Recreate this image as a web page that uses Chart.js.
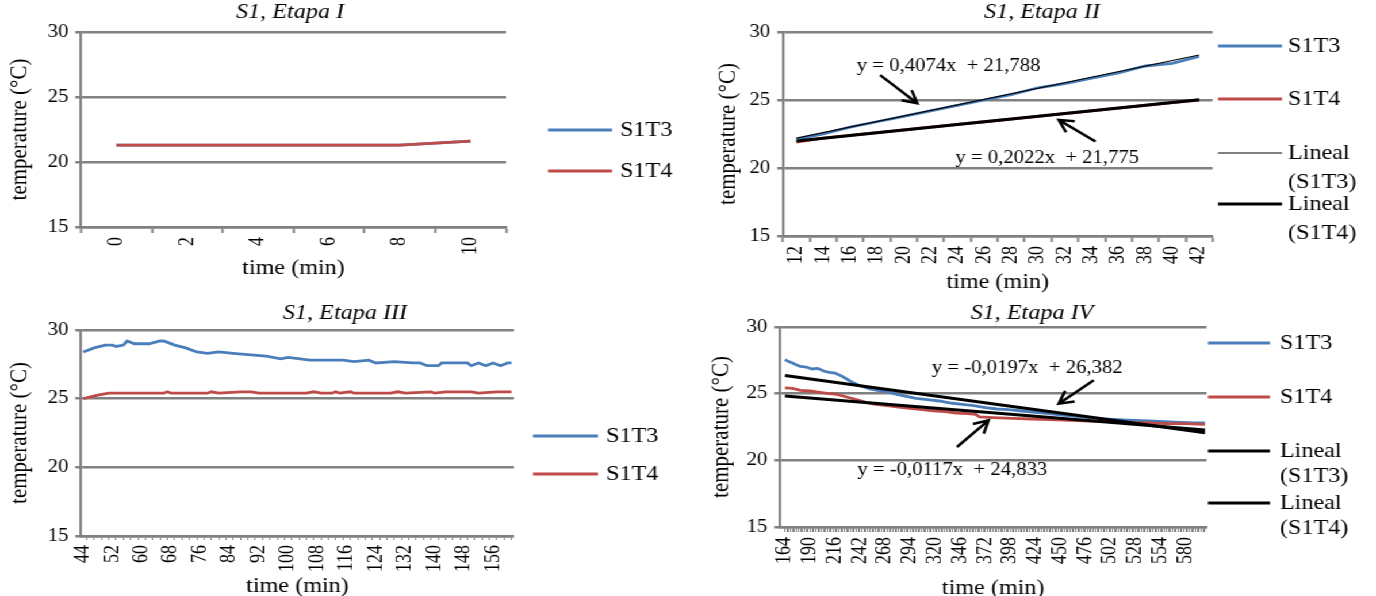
<!DOCTYPE html>
<html>
<head>
<meta charset="utf-8">
<script src="https://cdn.jsdelivr.net/npm/chart.js@4.4.1/dist/chart.umd.min.js"></script>
<style>
  html, body { margin: 0; padding: 0; background: #fff; overflow: hidden; }
  #wrap { position: relative; width: 1197px; height: 596px; transform: scaleX(1.15); transform-origin: 0 0; }
  canvas { position: absolute; }
</style>
</head>
<body>
<div id="wrap">
  <canvas id="c1"></canvas>
  <canvas id="c2"></canvas>
  <canvas id="c3"></canvas>
  <canvas id="c4"></canvas>
</div>
<script>
// ---- data (time in min, temperature in degC) ----

// S1, Etapa I
var times1 = [0, 2, 4, 6, 8, 10];
var s1t3_1 = [21.3, 21.3, 21.3, 21.3, 21.3, 21.6];
var s1t4_1 = [21.3, 21.3, 21.3, 21.3, 21.3, 21.6];
var xLabels1 = [0, 2, 4, 6, 8, 10];

// S1, Etapa II
var times2 = [12, 14, 16, 18, 20, 22, 24, 26, 28, 30, 32, 34, 36, 38, 40, 42];
var s1t3_2 = [22.1, 22.5, 23.0, 23.4, 23.8, 24.2, 24.6, 25.0, 25.4, 25.9, 26.2, 26.6, 27.0, 27.5, 27.7, 28.2];
var s1t4_2 = [21.9, 22.2, 22.4, 22.6, 22.8, 23.0, 23.2, 23.4, 23.6, 23.8, 24.0, 24.2, 24.4, 24.6, 24.8, 25.0];
var xLabels2 = [12, 14, 16, 18, 20, 22, 24, 26, 28, 30, 32, 34, 36, 38, 40, 42];
var trendS1T3_2 = [0.4074, 21.788];
var trendS1T4_2 = [0.2022, 21.775];

// S1, Etapa III
var times3a = [44, 47, 50, 52, 53, 55, 56, 58, 62, 65, 66, 69, 72, 75, 78, 81, 85, 89, 94, 98,
               100, 106, 115, 118, 122, 124, 129, 134, 136, 138, 141, 142, 149, 150, 152, 154, 156, 158, 160, 161];
var s1t3_3 = [28.4, 28.7, 28.9, 28.9, 28.8, 28.9, 29.2, 29.0, 29.0, 29.2, 29.2, 28.9, 28.7, 28.4, 28.3, 28.4, 28.3, 28.2, 28.1, 27.9,
              28.0, 27.8, 27.8, 27.7, 27.8, 27.6, 27.7, 27.6, 27.6, 27.4, 27.4, 27.6, 27.6, 27.4, 27.6, 27.4, 27.6, 27.4, 27.6, 27.6];
var times3b = [44, 48, 51, 66, 67, 68, 78, 79, 81, 87, 90, 92, 105, 107, 109, 112, 113, 114, 117, 118,
               128, 130, 132, 139, 140, 143, 150, 152, 157, 161];
var s1t4_3 = [25.0, 25.25, 25.4, 25.4, 25.5, 25.4, 25.4, 25.5, 25.4, 25.5, 25.5, 25.4, 25.4, 25.5, 25.4, 25.4, 25.5, 25.4, 25.5, 25.4,
              25.4, 25.5, 25.4, 25.5, 25.4, 25.5, 25.5, 25.4, 25.5, 25.5];
var xLabels3 = [44, 52, 60, 68, 76, 84, 92, 100, 108, 116, 124, 132, 140, 148, 156];

// S1, Etapa IV
var times4a = [164, 168, 172, 176, 180, 186, 192, 198, 204, 210, 216, 222, 228, 234, 240, 246, 252, 260, 270, 280,
               290, 300, 312, 324, 336, 348, 360, 372, 384, 396, 410, 424, 438, 452, 466, 480, 494, 510, 526, 542,
               558, 574, 590, 600];
var s1t3_4 = [27.55, 27.4, 27.3, 27.15, 27.05, 27.0, 26.85, 26.9, 26.7, 26.6, 26.55, 26.35, 26.1, 25.85, 25.65, 25.5, 25.35, 25.25, 25.15, 24.95,
              24.8, 24.65, 24.55, 24.45, 24.3, 24.2, 24.1, 23.95, 23.85, 23.8, 23.7, 23.6, 23.5, 23.4, 23.3, 23.2, 23.1, 23.05, 23.0, 22.95,
              22.9, 22.85, 22.8, 22.8];
var times4b = [164, 172, 180, 190, 200, 210, 218, 228, 238, 248, 258, 270, 282, 294, 306, 318, 330, 342, 354, 362,
               366, 380, 400, 420, 440, 460, 480, 500, 520, 540, 560, 580, 600];
var s1t4_4 = [25.43, 25.4, 25.25, 25.2, 25.1, 25.0, 24.95, 24.75, 24.55, 24.35, 24.2, 24.1, 24.0, 23.9, 23.8, 23.72, 23.65, 23.55, 23.5, 23.45,
              23.25, 23.2, 23.15, 23.1, 23.05, 23.0, 22.95, 22.9, 22.85, 22.8, 22.75, 22.75, 22.7];
var xLabels4 = [164, 190, 216, 242, 268, 294, 320, 346, 372, 398, 424, 450, 476, 502, 528, 554, 580];
var trendS1T3_4 = [-0.0197, 26.382];
var trendS1T4_4 = [-0.0117, 24.833];

// ---- look ----
var SX = 1.15; // same factor as #wrap scaleX
var FONT = '"Liberation Serif", "Times New Roman", serif';
var GRID = '#808080';
var BLUE = '#4a7ebb';
var RED = '#be4b48';
var INK = '#000000';

function points(times, vals) {
  return times.map(function (t, i) { return { x: t, y: vals[i] }; });
}

// Excel trendline: x is the point number (1, 2, 3 ...), one point every `step` minutes
function trendPoints(coef, t0, step, tEnd) {
  return [t0, tEnd].map(function (t) {
    return { x: t, y: coef[0] * (1 + (t - t0) / step) + coef[1] };
  });
}

function eqText(coef) {
  return 'y = ' + String(coef[0]).replace('.', ',') + 'x  + ' + String(coef[1]).replace('.', ',');
}

function line(label, data, color, width, order) {
  return { label: label, data: data, borderColor: color, borderWidth: width, pointRadius: 0, fill: false, order: order };
}

function arrow(ctx, x1, y1, x2, y2) {
  var a = Math.atan2(y2 - y1, x2 - x1), h = 14;
  ctx.beginPath();
  ctx.moveTo(x1, y1);
  ctx.lineTo(x2, y2);
  ctx.moveTo(x2 - h * Math.cos(a - 0.5), y2 - h * Math.sin(a - 0.5));
  ctx.lineTo(x2, y2);
  ctx.lineTo(x2 - h * Math.cos(a + 0.5), y2 - h * Math.sin(a + 0.5));
  ctx.stroke();
}

// title, side legend and trendline notes
function decor(p) {
  return {
    id: 'decor',
    afterDraw: function (chart) {
      var ctx = chart.ctx, xs = chart.scales.x, ys = chart.scales.y;
      ctx.save();
      ctx.fillStyle = INK;
      ctx.textBaseline = 'middle';
      ctx.textAlign = 'center';
      ctx.font = 'italic 21px ' + FONT;
      ctx.fillText(p.title, (p.titleAt[0] - p.box.x) / SX, p.titleAt[1] - p.box.y);

      var lx = (p.legend.x - p.box.x) / SX;
      var llen = p.legend.len / SX;
      var tx = (p.legend.textX - p.box.x) / SX;
      ctx.textAlign = 'left';
      ctx.font = '21px ' + FONT;
      chart.data.datasets.forEach(function (ds, i) {
        var y = p.legend.ys[i] - p.box.y;
        ctx.strokeStyle = ds.borderColor;
        ctx.lineWidth = ds.borderWidth;
        ctx.beginPath();
        ctx.moveTo(lx, y);
        ctx.lineTo(lx + llen, y);
        ctx.stroke();
        ds.label.split('\n').forEach(function (t, k) {
          ctx.fillText(t, tx, y + k * (p.legend.lead || 0));
        });
      });

      ctx.font = '18px ' + FONT;
      ctx.strokeStyle = '#000';
      ctx.lineWidth = 2.5;
      (p.notes || []).forEach(function (n) {
        ctx.fillText(n.text, xs.getPixelForValue(n.at[0]), ys.getPixelForValue(n.at[1]));
        arrow(ctx, xs.getPixelForValue(n.from[0]), ys.getPixelForValue(n.from[1]),
                   xs.getPixelForValue(n.to[0]), ys.getPixelForValue(n.to[1]));
      });
      ctx.restore();
    }
  };
}

function makePanel(p) {
  var canvas = document.getElementById(p.id);
  var w = Math.round(p.box.w / SX), h = p.box.h;
  canvas.width = w;
  canvas.height = h;
  canvas.style.left = (p.box.x / SX) + 'px';
  canvas.style.top = p.box.y + 'px';

  var half = 21 * 1.2 / 2;
  var yW = (p.plot.l - p.box.x) / SX;
  var padR = (p.box.x + p.box.w - p.plot.r) / SX;
  var padT = p.plot.t - p.box.y;
  var xH = p.box.y + h - p.plot.b;

  var m = p.marks;
  var isMark = function (v) { return v >= m[0] && v <= m[1] && (v - m[0]) % m[2] === 0; };
  var all = p.xLabels.slice();
  for (var v = m[0]; v <= m[1]; v += m[2]) { if (all.indexOf(v) < 0) all.push(v); }
  all.sort(function (a, b) { return a - b; });

  new Chart(canvas, {
    type: 'line',
    data: { datasets: p.datasets },
    options: {
      responsive: false,
      animation: false,
      events: [],
      layout: { padding: { left: 0, right: padR, top: padT, bottom: 0 } },
      plugins: { legend: { display: false }, tooltip: { enabled: false } },
      elements: { line: { tension: 0 } },
      scales: {
        x: {
          type: 'linear',
          bounds: 'data',
          min: p.xRange[0],
          max: p.xRange[1],
          afterFit: function (s) { s.height = xH; },
          afterBuildTicks: function (s) { s.ticks = all.map(function (v) { return { value: v }; }); },
          ticks: {
            autoSkip: false, minRotation: 90, maxRotation: 90, padding: p.labelPad,
            color: INK, font: { family: FONT, size: 18 },
            callback: function (v) { return p.xLabels.indexOf(v) >= 0 ? String(v) : ''; }
          },
          grid: {
            drawOnChartArea: false,
            tickLength: p.tickLen,
            tickWidth: p.tickW,
            tickColor: function (c) { return c.tick && isMark(c.tick.value) ? GRID : 'rgba(0,0,0,0)'; }
          },
          border: { color: GRID, width: 2.5 },
          title: {
            display: true, text: 'time (min)', color: INK, font: { family: FONT, size: 21 },
            padding: { top: 0, bottom: p.box.y + h - p.xTitleY - half }
          }
        },
        y: {
          min: 15,
          max: 30,
          afterFit: function (s) { s.width = yW; },
          ticks: { stepSize: 5, padding: 6, color: INK, font: { family: FONT, size: 18 } },
          grid: { color: GRID, lineWidth: 2.5, tickLength: 5 },
          border: { color: GRID, width: 2.2 },
          title: {
            display: true, text: 'temperature (°C)', color: INK, font: { family: FONT, size: 21 },
            padding: { top: (p.yTitleX - p.box.x) / SX - half, bottom: 0 }
          }
        }
      }
    },
    plugins: [decor(p)]
  });
}

document.addEventListener('DOMContentLoaded', function () {
  makePanel({
    id: 'c1', title: 'S1, Etapa I', titleAt: [290, 12],
    box: { x: 0, y: 0, w: 690, h: 300 }, plot: { l: 81, r: 506, t: 32, b: 227 },
    yTitleX: 20, xTitleY: 268,
    xRange: [-1, 11], xLabels: xLabels1, marks: [-1, 11, 2], tickLen: 6, tickW: 2, labelPad: 4,
    legend: { x: 548, len: 64, textX: 620, ys: [130, 171] },
    datasets: [
      line('S1T3', points(times1, s1t3_1), BLUE, 2.8, 2),
      line('S1T4', points(times1, s1t4_1), RED, 2.8, 1)
    ]
  });

  makePanel({
    id: 'c2', title: 'S1, Etapa II', titleAt: [1042, 12],
    box: { x: 690, y: 0, w: 686, h: 300 }, plot: { l: 783, r: 1212, t: 32, b: 236 },
    yTitleX: 728, xTitleY: 282,
    xRange: [11, 43], xLabels: xLabels2, marks: [11, 43, 2], tickLen: 6, tickW: 2, labelPad: 4,
    legend: { x: 1218, len: 64, textX: 1288, ys: [46, 99, 153, 204], lead: 29 },
    notes: [
      { text: eqText(trendS1T3_2), at: [16.5, 27.45], from: [18.24, 26.83], to: [21.0, 24.76] },
      { text: eqText(trendS1T4_2), at: [23.84, 20.73], from: [34.28, 21.95], to: [31.54, 23.54] }
    ],
    datasets: [
      line('S1T3', points(times2, s1t3_2), BLUE, 2.8, 3),
      line('S1T4', points(times2, s1t4_2), RED, 2.8, 2),
      line('Lineal\n(S1T3)', trendPoints(trendS1T3_2, 12, 2, 42), '#000', 1.2, 1),
      line('Lineal\n(S1T4)', trendPoints(trendS1T4_2, 12, 2, 42), '#000', 3, 0)
    ]
  });

  makePanel({
    id: 'c3', title: 'S1, Etapa III', titleAt: [345, 313],
    box: { x: 0, y: 290, w: 690, h: 320 }, plot: { l: 81, r: 514, t: 330, b: 536 },
    yTitleX: 20, xTitleY: 586,
    xRange: [43.4, 161.7], xLabels: xLabels3, marks: [45, 161, 2], tickLen: 4, tickW: 1, labelPad: 5,
    legend: { x: 533, len: 65, textX: 606, ys: [436, 474] },
    datasets: [
      line('S1T3', points(times3a, s1t3_3), BLUE, 2.8, 2),
      line('S1T4', points(times3b, s1t4_3), RED, 2.8, 1)
    ]
  });

  makePanel({
    id: 'c4', title: 'S1, Etapa IV', titleAt: [1032, 313],
    box: { x: 690, y: 290, w: 686, h: 320 }, plot: { l: 780, r: 1206, t: 327, b: 527 },
    yTitleX: 722, xTitleY: 588,
    xRange: [158.8, 601.6], xLabels: xLabels4, marks: [164, 600, 2], tickLen: 5, tickW: 1, labelPad: 5,
    legend: { x: 1208, len: 62, textX: 1280, ys: [343, 397, 451, 503], lead: 25 },
    notes: [
      { text: eqText(trendS1T3_4), at: [316.5, 26.88], from: [484.5, 26.0], to: [448.1, 24.25] },
      { text: eqText(trendS1T4_4), at: [239.2, 19.25], from: [342.5, 21.0], to: [375.3, 23.0] }
    ],
    datasets: [
      line('S1T3', points(times4a, s1t3_4), BLUE, 2.8, 3),
      line('S1T4', points(times4b, s1t4_4), RED, 2.8, 2),
      line('Lineal\n(S1T3)', trendPoints(trendS1T3_4, 164, 2, 600), '#000', 3, 1),
      line('Lineal\n(S1T4)', trendPoints(trendS1T4_4, 164, 2, 600), '#000', 3, 0)
    ]
  });
});
</script>
</body>
</html>
